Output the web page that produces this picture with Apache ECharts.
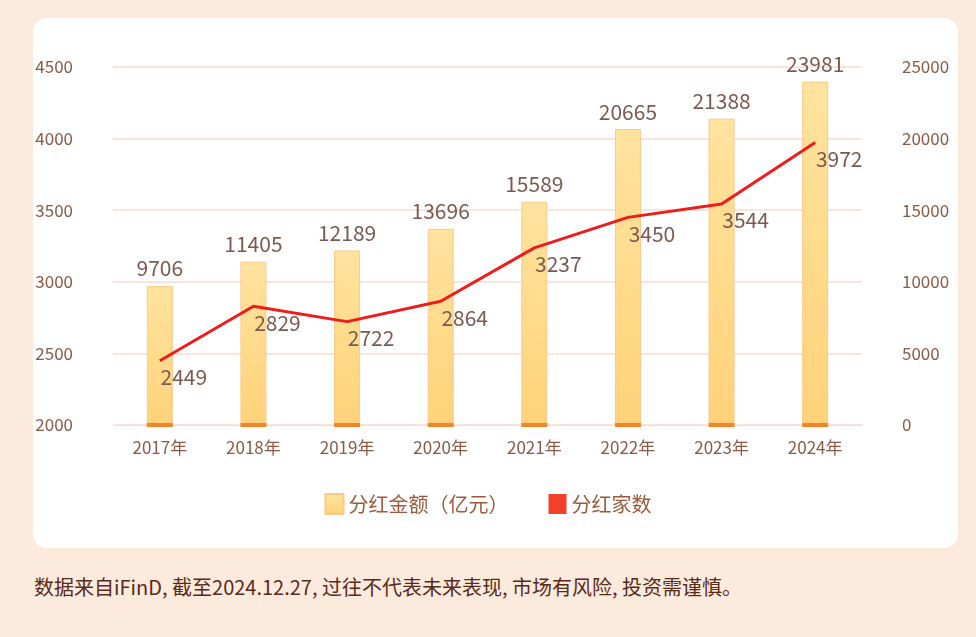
<!DOCTYPE html>
<html><head><meta charset="utf-8">
<script src="https://cdn.jsdelivr.net/npm/echarts@6/dist/echarts.min.js"></script>
<style>
body{margin:0;width:976px;height:637px;background:#fcebdc;font-family:"Noto Sans CJK SC",sans-serif;position:relative;overflow:hidden}
#card{position:absolute;left:33px;top:18px;width:925px;height:530px;background:#fff;border-radius:14px}
#main{position:absolute;left:0;top:0;width:976px;height:560px}
#foot{position:absolute;left:34px;top:572px;font-size:20px;color:#5a2a1a}
</style></head><body>
<div id="card"></div>
<div id="main"></div>
<div id="foot">数据来自iFinD, 截至2024.12.27, 过往不代表未来表现, 市场有风险, 投资需谨慎。</div>
<script>
var years = ['2017年', '2018年', '2019年', '2020年', '2021年', '2022年', '2023年', '2024年'];
var amount = [9706, 11405, 12189, 13696, 15589, 20665, 21388, 23981];
var companies = [2449, 2829, 2722, 2864, 3237, 3450, 3544, 3972];

var myChart = echarts.init(document.getElementById('main'));
var txt = '#8a5a48';
var plain = function (v) { return String(v); };
myChart.setOption({
  textStyle: {fontFamily: 'Noto Sans CJK SC'},
  grid: {left: 113, right: 114, top: 67, bottom: 135},
  legend: {
    bottom: 40,
    itemWidth: 18, itemHeight: 20, itemGap: 40,
    textStyle: {fontSize: 20, color: '#9a5a3c'},
    data: [{name: '分红金额（亿元）', icon: 'rect'}, {name: '分红家数', icon: 'rect'}]
  },
  xAxis: {
    type: 'category', data: years,
    axisLine: {lineStyle: {color: '#f8dcd0'}},
    axisTick: {show: false},
    axisLabel: {fontSize: 17, color: txt, margin: 14}
  },
  yAxis: [
    {
      type: 'value', min: 2000, max: 4500, interval: 500,
      axisLabel: {fontSize: 17, color: txt, margin: 40, formatter: plain},
      splitLine: {lineStyle: {color: '#f8dcd0', width: 1.5}}
    },
    {
      type: 'value', min: 0, max: 25000, interval: 5000,
      axisLabel: {fontSize: 17, color: txt, margin: 40, formatter: plain},
      splitLine: {show: false}
    }
  ],
  series: [
    {
      name: '分红金额（亿元）', type: 'bar', yAxisIndex: 1, barWidth: 26,
      data: amount,
      itemStyle: {
        color: new echarts.graphic.LinearGradient(0, 0, 0, 1, [
          {offset: 0, color: '#ffe39e'}, {offset: 1, color: '#ffd27a'}
        ]),
        borderColor: '#fcc98a', borderWidth: 1
      },
      label: {show: true, position: 'top', fontSize: 21, color: '#7a5a50', distance: 7}
    },
    {
      type: 'pictorialBar', yAxisIndex: 1, data: amount, symbol: 'rect',
      symbolSize: [26, 4], symbolPosition: 'start', symbolOffset: [0, 2],
      itemStyle: {color: '#f0862a'}, silent: true, z: 3
    },
    {
      name: '分红家数', type: 'line', yAxisIndex: 0,
      data: companies, symbol: 'circle', symbolSize: 0.1, showSymbol: true,
      lineStyle: {color: '#ee1c1c', width: 3},
      itemStyle: {color: '#f4402a'},
      label: {show: true, position: 'bottom', fontSize: 21, color: '#7a5a50', distance: 6, offset: [24, 0], formatter: function (p) { return String(p.value); }}
    }
  ]
});
</script></body></html>
